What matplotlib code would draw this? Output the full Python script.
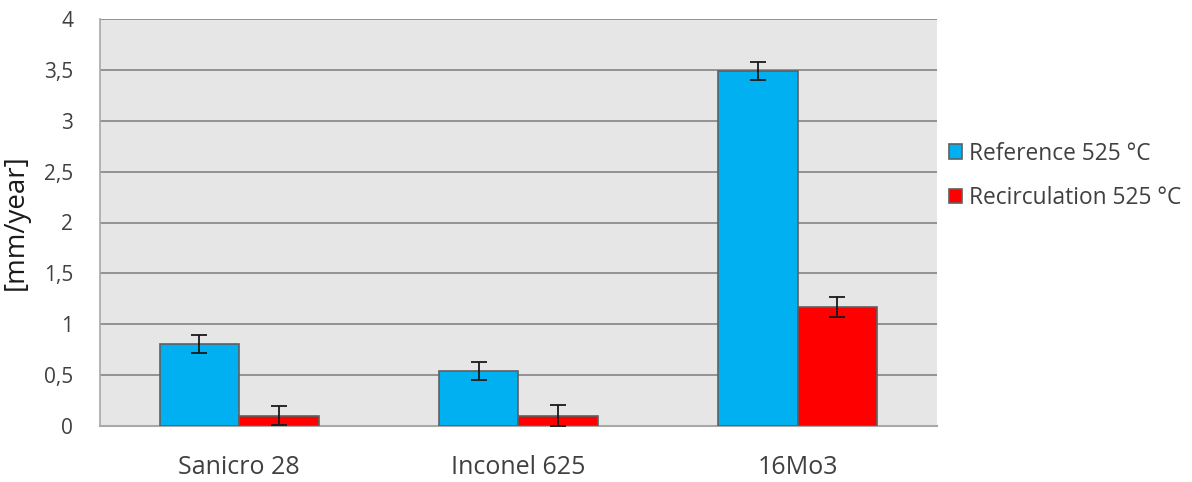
import matplotlib
matplotlib.use("Agg")
import matplotlib.pyplot as plt
import numpy as np

categories = ["Sanicro 28", "Inconel 625", "16Mo3"]
series_names = ["Reference 525 °C", "Recirculation 525 °C"]
reference = [0.80, 0.54, 3.49]
reference_err = [0.088, 0.088, 0.087]
recirculation = [0.10, 0.10, 1.17]
recirculation_err = [0.095, 0.10, 0.10]
yticks = [0, 0.5, 1, 1.5, 2, 2.5, 3, 3.5, 4]
ytick_labels = ["0", "0,5", "1", "1,5", "2", "2,5", "3", "3,5", "4"]

plt.rcParams["font.family"] = ["Open Sans", "DejaVu Sans"]
text_color = "#404040"

W, H = 1192, 482
fig = plt.figure(figsize=(W / 100, H / 100), dpi=100)
ax = fig.add_axes([99.5 / W, (H - 425.7) / H, (937.3 - 99.5) / W, (425.7 - 19.3) / H])
ax.set_facecolor("#e6e6e6")

x = np.arange(len(categories))
width = 0.285
err_kw = dict(ecolor="#1a1a1a", elinewidth=1.3, capsize=6, capthick=1.3)
ax.bar(x - width / 2, reference, width, color="#00b0f0", edgecolor="#606060",
       linewidth=1.2, yerr=reference_err, error_kw=err_kw, label=series_names[0], zorder=3)
ax.bar(x + width / 2, recirculation, width, color="#ff0000", edgecolor="#606060",
       linewidth=1.2, yerr=recirculation_err, error_kw=err_kw, label=series_names[1], zorder=3)

ax.set_xlim(-0.5, len(categories) - 0.5)
ax.set_ylim(0, 4)
ax.set_yticks(yticks)
ax.set_yticklabels(ytick_labels)
ax.set_xticks(x)
ax.set_xticklabels(categories)
ax.yaxis.grid(True, color="#8c8c8c", linewidth=1.3, zorder=0)
ax.set_axisbelow(True)
ax.tick_params(axis="both", length=0, colors=text_color)
ax.tick_params(axis="y", labelsize=15, pad=19)
ax.tick_params(axis="x", labelsize=18, pad=21)

for side in ("top", "right"):
    ax.spines[side].set_visible(False)
ax.spines["left"].set_color("#a8a8a8")
ax.spines["left"].set_linewidth(1.2)
ax.spines["bottom"].set_color("#a8a8a8")
ax.spines["bottom"].set_linewidth(1.5)

ax.set_ylabel("[mm/year]", fontsize=20, color="#1a1a1a")
ax.yaxis.set_label_coords(-0.083, 0.5)

leg = ax.legend(loc="center left", bbox_to_anchor=(1.0, 0.615), frameon=False,
                fontsize=16.4, handlelength=0.6, handleheight=0.6, handletextpad=0.3,
                labelspacing=0.9, labelcolor=text_color, borderaxespad=0.1)

fig.savefig("out.png", dpi=100, facecolor="white")
